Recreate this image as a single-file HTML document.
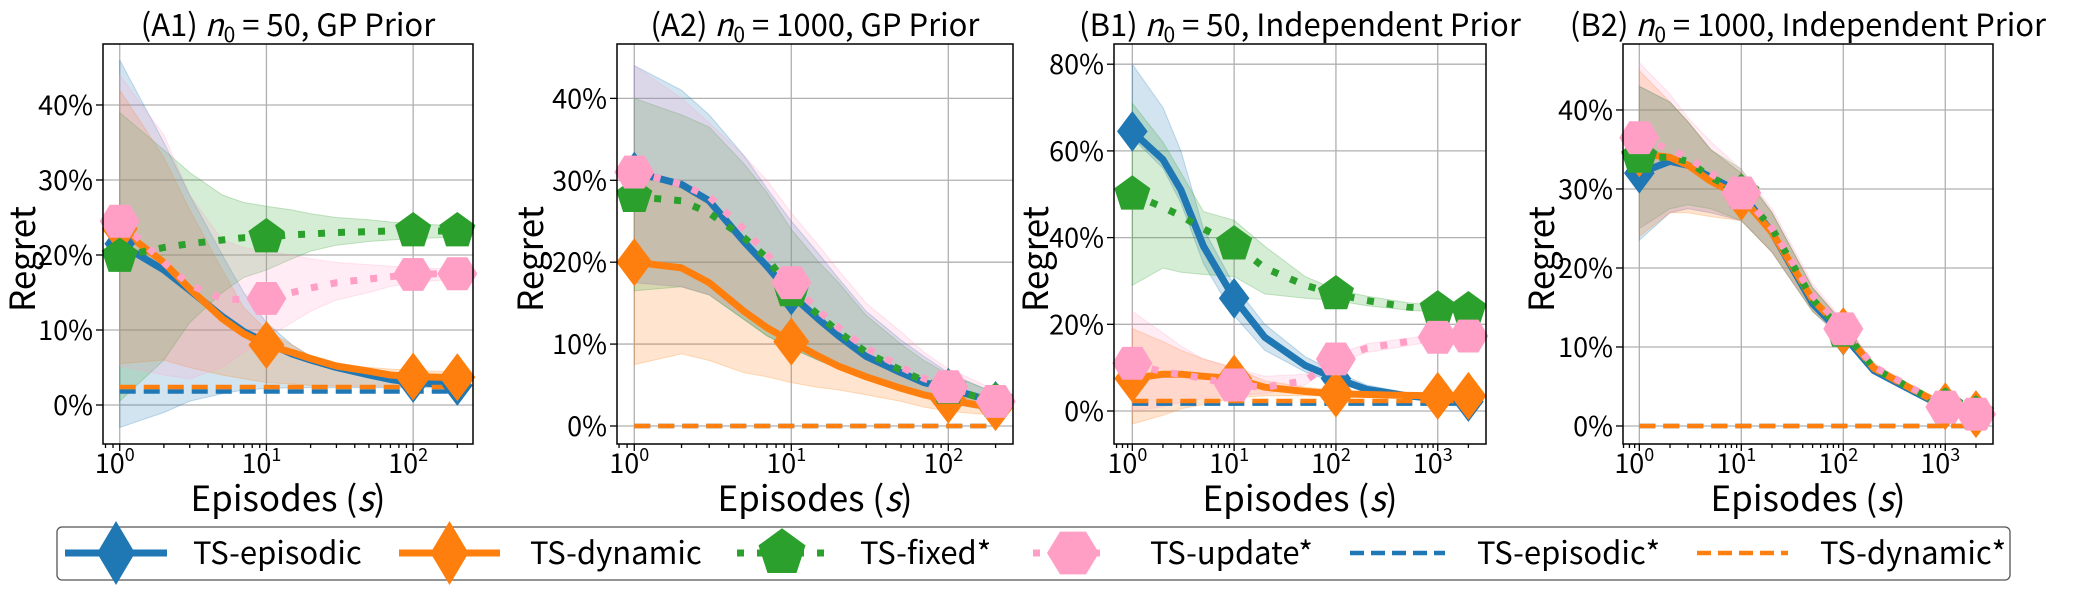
<!DOCTYPE html>
<html><head><meta charset="utf-8">
<style>
html,body{margin:0;padding:0;background:#fff;}
svg{display:block;font-family:"Liberation Sans","Noto Sans CJK JP",sans-serif;}
text{font-family:"Noto Sans CJK JP","Liberation Sans",sans-serif;}
</style></head>
<body>
<svg id="fig" width="2085" height="590" viewBox="0 0 2085 590" xmlns="http://www.w3.org/2000/svg"></svg>
<script>
// ---------- data ----------
const xsA = [1,2,3,5,7,10,15,20,30,50,70,100,150,200];
const xsB = [1,2,3,5,10,20,50,100,200,500,1000,2000];
const markA = [1,10,100,200];
const markB = [1,10,100,1000,2000];

// A1
const a1Blue = [21.5,18,15.3,11.8,9.8,8.3,6.8,6,5,4,3.4,3.0,2.8,2.6];
const a1Orange = [23.5,19,15.5,11.5,9.5,8,7,6.2,5.2,4.5,4.0,3.8,3.7,3.7];
const a1Green = [19.8,21,21.5,22,22.3,22.4,22.7,22.8,23,23.1,23.2,23.2,23.2,23.2];
const a1Pink = [24.5,19,16,14.2,14.0,14.2,15,15.6,16.3,16.8,17.1,17.4,17.5,17.5];
const a1BlueHi = [46,35,28,20,15,11,8,6.5,5.5,4.8,4.3,4,3.9,3.8];
const a1BlueLo = [-3,-1,0.5,1.5,2,2.2,2.3,2.3,2.3,2.3,2.3,2.3,2.3,2.3];
const a1OrangeHi = [42,33,26,18,13,10,8,6.5,5.5,5,4.8,4.6,4.5,4.5];
const a1OrangeLo = [5.5,6,5,4,3.5,3,2.8,2.6,2.5,2.5,2.5,2.5,2.5,2.5];
const a1GreenHi = [39,34,31,28,27,26.5,26,25.5,25,24.7,24.4,24.2,24,23.8];
const a1GreenLo = [0.5,6,11,15,17,18,19.5,20.5,21.3,21.8,22,22.2,22.3,22.4];
const a1PinkHi = [44,36,28,22,21,20.5,20,19.5,19,18.7,18.5,18.3,18.2,18.2];
const a1PinkLo = [5.2,4,3.5,5,7,9,11,12.5,14,15,15.8,16.3,16.6,16.8];
const a1EpiStar = 1.8, a1DynStar = 2.4;

// A2
const a2Blue = [31,29.5,27.5,22.5,19.5,16,13,11,8.5,6.5,5.3,4.6,3.6,3.0];
const a2Orange = [20,19.3,17.5,14,12,10.3,8.5,7.3,6,4.6,3.8,3.2,2.6,2.3];
const a2Green = [28,27.5,26,23,20.5,16.5,13.5,11.5,9,6.8,5.5,4.6,3.6,3.0];
const a2Pink = [31,29.5,28,24,21,17.5,14,12,9.5,7.2,5.8,4.8,3.8,3.0];
const a2BlueHi = [44,41,38,33,29,25,21,18,14,10.5,8.5,6.5,5,4];
const a2BlueLo = [17.5,17,16,13,11,9.5,8,7,6,4.5,3.5,2.8,2.2,2.0];
const a2OrangeHi = [31,29,27,22,19,16,13,11,8.7,6.5,5,4,3.2,2.8];
const a2OrangeLo = [7.5,8.8,8,6.5,6,5.3,4.7,4.4,3.8,3,2.3,1.8,1.5,1.3];
const a2GreenHi = [40,38,36.5,32,28.5,24,20,17.5,13.5,10,8,6.3,5,4];
const a2GreenLo = [16.5,17,16,13,11,9.5,8,7,6,4.5,3.5,2.8,2.2,2];
const a2PinkHi = [44,40,37,33,30,26,22,19,15,11.5,9,7,5.5,4.3];
const a2PinkLo = [17.5,17,16,13.5,11.5,10,8.5,7.5,6.3,4.8,3.8,3,2.4,2];
const a2EpiStar = 0, a2DynStar = 0;

// B1
const b1Blue = [64.5,58,51,38,26,17,10.5,7.5,5,3.5,2.8,2.2];
const b1Orange = [7.5,8.5,8.5,8,7.5,5.5,4.5,4,3.8,3.6,3.5,3.5];
const b1Green = [50,47,45,42,38.5,33,29,27,25.5,24,23.5,23.3];
const b1Pink = [11,9,8.5,7.5,6,5.5,7,12,14.5,16,17,17.3];
const b1BlueHi = [80,70,60,42,29,20,12.5,9,6,4.2,3.4,2.8];
const b1BlueLo = [63,56,48,34,22,14,9,6.5,4.5,3.2,2.4,2];
const b1OrangeHi = [19,16,14,12,10,7,5.5,4.8,4.3,4,3.9,3.8];
const b1OrangeLo = [-3,-1,0.5,1.5,3,3.5,3.5,3.4,3.3,3.2,3.2,3.2];
const b1GreenHi = [71,62,55,46,44,38,31,28,26.5,25,24.3,24];
const b1GreenLo = [29,33,32,31.5,31,27,26,25.5,24.3,23.3,22.8,22.6];
const b1PinkHi = [23,18,15,12,10,8,8.5,13,15.5,16.8,17.6,17.8];
const b1PinkLo = [0,1,2,3,3.5,4,6,11,13.5,15,16.3,16.8];
const b1EpiStar = 1.7, b1DynStar = 2.3;

// B2
const b2Blue = [32,33.5,33,31.5,29.5,24.5,15.5,11.5,7,4.3,2.3,1.5];
const b2Orange = [34.5,34,33,31,29,24.5,16,12,7.3,4.5,2.5,1.5];
const b2Green = [34,34,33.5,31.5,29.5,25,16,12,7.3,4.5,2.5,1.5];
const b2Pink = [36.5,35,34,32,29.5,25,16.5,12.3,7.5,4.6,2.4,1.5];
const b2BlueHi = [43,41,38.5,35,32,27,17.5,13,7.8,4.8,2.8,1.8];
const b2BlueLo = [23.5,27,27.5,27,26,22,14.5,11,6.7,4.2,2.2,1.3];
const b2OrangeHi = [45,41,38.5,35,32,27,17.5,13,7.8,4.8,2.8,1.8];
const b2OrangeLo = [24,27,27,26.5,26,22,14.5,11,6.7,4.2,2.2,1.3];
const b2GreenHi = [43,41,38.5,35,32.5,27,17.5,13,7.8,4.8,2.8,1.8];
const b2GreenLo = [25,27.5,28,27.5,26,22,14.5,11,6.7,4.2,2.2,1.3];
const b2PinkHi = [46,42,39,36,32.5,27.5,18,13.3,8,4.9,2.8,1.8];
const b2PinkLo = [25,27,27.5,27,26,22,14.5,11,6.7,4.2,2.2,1.3];
const b2EpiStar = 0, b2DynStar = 0;

const yTicksA = [0,10,20,30,40];
const yTicksB1 = [0,20,40,60,80];
const xDecA = [0,1,2];
const xDecB = [0,1,2,3];

// ---------- drawing ----------
const NS = "http://www.w3.org/2000/svg";
const svg = document.getElementById('fig');
const C = {blue:'#1f77b4', orange:'#ff7f0e', green:'#2ca02c', pink:'#ff9fc6'};
function mk(tag, attrs, parent){
  const e = document.createElementNS(NS, tag);
  for (const k in attrs) e.setAttribute(k, attrs[k]);
  (parent||svg).appendChild(e);
  return e;
}

const panels = [
  {id:'a1', title:['(A1) ','50, GP Prior'], box:[103,44,473,444], xl:[-0.114,2.408], yl:[-5.2,48.13], xs:xsA, marks:markA, dec:xDecA, yt:yTicksA, ylab:24,
   s:[a1Blue,a1Orange,a1Green,a1Pink], hi:[a1BlueHi,a1OrangeHi,a1GreenHi,a1PinkHi], lo:[a1BlueLo,a1OrangeLo,a1GreenLo,a1PinkLo], star:[a1EpiStar,a1DynStar]},
  {id:'a2', title:['(A2) ','1000, GP Prior'], box:[617,44,1013,444], xl:[-0.110,2.412], yl:[-2.2,46.64], xs:xsA, marks:markA, dec:xDecA, yt:yTicksA, ylab:532,
   s:[a2Blue,a2Orange,a2Green,a2Pink], hi:[a2BlueHi,a2OrangeHi,a2GreenHi,a2PinkHi], lo:[a2BlueLo,a2OrangeLo,a2GreenLo,a2PinkLo], star:[a2EpiStar,a2DynStar]},
  {id:'b1', title:['(B1) ','50, Independent Prior'], box:[1114,44,1486,444], xl:[-0.18,3.474], yl:[-7.61,84.66], xs:xsB, marks:markB, dec:xDecB, yt:yTicksB1, ylab:1037,
   s:[b1Blue,b1Orange,b1Green,b1Pink], hi:[b1BlueHi,b1OrangeHi,b1GreenHi,b1PinkHi], lo:[b1BlueLo,b1OrangeLo,b1GreenLo,b1PinkLo], star:[b1EpiStar,b1DynStar]},
  {id:'b2', title:['(B2) ','1000, Independent Prior'], box:[1623,44,1993,444], xl:[-0.16,3.468], yl:[-2.28,48.35], xs:xsB, marks:markB, dec:xDecB, yt:yTicksA, ylab:1543,
   s:[b2Blue,b2Orange,b2Green,b2Pink], hi:[b2BlueHi,b2OrangeHi,b2GreenHi,b2PinkHi], lo:[b2BlueLo,b2OrangeLo,b2GreenLo,b2PinkLo], star:[b2EpiStar,b2DynStar]}
];

function markerPath(kind, cx, cy, big){
  const k = big||1;
  if (kind==='diamond'){ const w=18*k, h=24*k; return `M${cx},${cy-h}L${cx+w},${cy}L${cx},${cy+h}L${cx-w},${cy}Z`; }
  if (kind==='pent'){ const r=19*k; let d=''; for(let i=0;i<5;i++){const a=-Math.PI/2+i*2*Math.PI/5; d+=(i?'L':'M')+(cx+r*Math.cos(a)).toFixed(1)+','+(cy+r*Math.sin(a)).toFixed(1);} return d+'Z'; }
  if (kind==='hex'){ const r=20*k; let d=''; for(let i=0;i<6;i++){const a=i*Math.PI/3; d+=(i?'L':'M')+(cx+r*Math.cos(a)).toFixed(1)+','+(cy+r*Math.sin(a)*0.95).toFixed(1);} return d+'Z'; }
}

panels.forEach(p=>{
  const [x0,y0,x1,y1] = p.box;
  const X = v => x0 + (Math.log10(v)-p.xl[0])/(p.xl[1]-p.xl[0])*(x1-x0);
  const Y = v => y1 - (v-p.yl[0])/(p.yl[1]-p.yl[0])*(y1-y0);
  const g = mk('g',{});
  
  
  const cid = 'clip-'+p.id;
  const cp = mk('clipPath',{id:cid}, g); mk('rect',{x:x0,y:y0,width:x1-x0,height:y1-y0}, cp);

  const grid = mk('g',{stroke:'#b0b0b0','stroke-width':1.3}, g);
  
  
  p.dec.forEach(d=>{ const x=X(Math.pow(10,d)); mk('line',{x1:x,x2:x,y1:y0,y2:y1},grid); });
  p.yt.forEach(t=>{ const y=Y(t); mk('line',{x1:x0,x2:x1,y1:y,y2:y},grid); });

  const plot = mk('g',{'clip-path':`url(#${cid})`}, g);
  const cols = [C.blue,C.orange,C.green,C.pink];
  const names = ['ts-episodic','ts-dynamic','ts-fixed','ts-update'];
  for (let i=0;i<4;i++){
    let d=''; p.xs.forEach((x,j)=>{ d+=(j?'L':'M')+X(x).toFixed(1)+','+Y(p.hi[i][j]).toFixed(1); });
    for (let j=p.xs.length-1;j>=0;j--) d+='L'+X(p.xs[j]).toFixed(1)+','+Y(p.lo[i][j]).toFixed(1);
    const b = mk('path',{d:d+'Z', fill:cols[i], 'fill-opacity':0.2, stroke:cols[i], 'stroke-opacity':0.25, 'stroke-width':1}, plot);
    
    
  }
  const styles = [{w:7,da:''},{w:7,da:''},{w:7,da:'7,13'},{w:7,da:'7,13'}];
  const kinds = ['diamond','diamond','pent','hex'];
  for (let i=0;i<4;i++){
    let d=''; p.xs.forEach((x,j)=>{ d+=(j?'L':'M')+X(x).toFixed(1)+','+Y(p.s[i][j]).toFixed(1); });
    const l = mk('path',{d, fill:'none', stroke:cols[i], 'stroke-width':styles[i].w, 'stroke-linejoin':'round', 'stroke-dasharray':styles[i].da}, plot);
    
    
    p.marks.forEach(m=>{
      const j = p.xs.indexOf(m);
      const mm = mk('path',{d:markerPath(kinds[i], X(m), Y(p.s[i][j]), i===0?0.85:1), fill:cols[i]}, g);
      
      
    });
  }
  const sc = [C.blue, C.orange];
  [0,1].forEach(i=>{
    const y = Y(p.star[i]);
    const l = mk('line',{x1:X(p.xs[0]),x2:X(p.xs[p.xs.length-1]),y1:y,y2:y,stroke:sc[i],'stroke-width':4.5,'stroke-dasharray':'16,8'}, plot);
    
    
  });

  const fr = mk('rect',{x:x0,y:y0,width:x1-x0,height:y1-y0,fill:'none',stroke:'#000','stroke-width':1.5}, g);
  
  

  const tk = mk('g',{stroke:'#000','stroke-width':1.3}, g);
  for (let d=-1; d<=p.dec[p.dec.length-1]+1; d++){
    for (let m=1;m<10;m++){
      const v = m*Math.pow(10,d), lv = Math.log10(v);
      if (lv < p.xl[0] || lv > p.xl[1]) continue;
      const x = X(v);
      mk('line',{x1:x,x2:x,y1:y1,y2:y1+(m===1?7:4)}, tk);
    }
  }
  p.dec.forEach(d=>{
    const t = mk('text',{x:X(Math.pow(10,d))-5,y:473,'text-anchor':'middle','font-size':27,fill:'#000'}, g);
    
    
    t.appendChild(document.createTextNode('10'));
    const s = mk('tspan',{dy:-12,'font-size':18}, t); s.textContent = String(d);
  });
  p.yt.forEach(v=>{
    const y = Y(v);
    mk('line',{x1:x0-7,x2:x0,y1:y,y2:y}, tk);
    const t = mk('text',{x:x0-10,y:y+10,'text-anchor':'end','font-size':27,fill:'#000'}, g);
    
    
    t.textContent = v+'%';
  });
  const yl = mk('text',{x:p.ylab,y:248,'text-anchor':'middle','font-size':35,fill:'#000',transform:`rotate(-90 ${p.ylab+11} 248)`}, g);
  
  
  yl.textContent='Regret';
  const xl = mk('text',{x:(x0+x1)/2,y:511,'text-anchor':'middle','font-size':35,fill:'#000'}, g);
  
  
  xl.appendChild(document.createTextNode('Episodes ('));
  const it = mk('tspan',{'font-style':'italic'}, xl); it.textContent='s';
  xl.appendChild(document.createTextNode(')'));
  const tt = mk('text',{x:(x0+x1)/2,y:36,'text-anchor':'middle','font-size':31,fill:'#000'}, g);
  
  
  tt.appendChild(document.createTextNode(p.title[0]));
  const n = mk('tspan',{'font-style':'italic'}, tt); n.textContent='n';
  const sub = mk('tspan',{'font-size':21,dy:6}, tt); sub.textContent='0';
  const rest = mk('tspan',{dy:-6}, tt); rest.textContent=' = '+p.title[1];
});

// legend
const lg = mk('g',{});


mk('rect',{x:57,y:527,width:1953,height:53,rx:5,fill:'#fff',stroke:'#555','stroke-width':1.3}, lg);
const legItems = [
  {name:'TS-episodic', col:C.blue, x0:65, x1:167, kind:'diamond', dash:'', w:7, tx:193},
  {name:'TS-dynamic', col:C.orange, x0:399, x1:500, kind:'diamond', dash:'', w:7, tx:530},
  {name:'TS-fixed*', col:C.green, x0:737, x1:827, kind:'pent', dash:'7,13', w:7, tx:860},
  {name:'TS-update*', col:C.pink, x0:1033, x1:1113, kind:'hex', dash:'7,13', w:7, tx:1150},
  {name:'TS-episodic*', col:C.blue, x0:1350, x1:1445, kind:null, dash:'14,7', w:4.5, tx:1477},
  {name:'TS-dynamic*', col:C.orange, x0:1697, x1:1788, kind:null, dash:'14,7', w:4.5, tx:1820}
];
legItems.forEach(it=>{
  const e = mk('g',{}, lg);
  
  
  mk('line',{x1:it.x0,x2:it.x1,y1:553,y2:553,stroke:it.col,'stroke-width':it.w,'stroke-dasharray':it.dash}, e);
  const cx=(it.x0+it.x1)/2;
  if (it.kind==='diamond') mk('path',{d:`M${cx},521L${cx+19},553L${cx},585L${cx-19},553Z`,fill:it.col}, e);
  else if (it.kind) mk('path',{d:markerPath(it.kind,cx,553,1.3),fill:it.col}, e);
  const t = mk('text',{x:it.tx,y:564,'font-size':31,fill:'#000'}, e);
  t.textContent = it.name;
});
</script>
</body></html>
